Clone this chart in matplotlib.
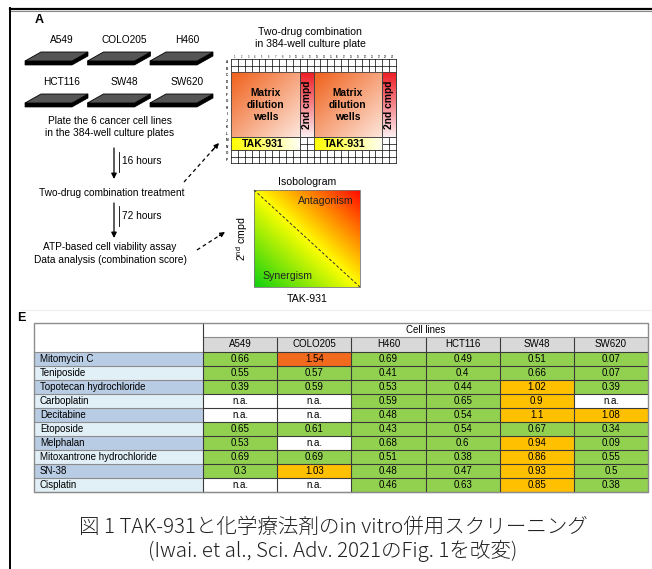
import numpy as np
import matplotlib.pyplot as plt
from matplotlib.patches import Polygon, Rectangle
from matplotlib.colors import to_rgb

plt.rcParams['font.family'] = ['Liberation Sans', 'DejaVu Sans']

# ---- data ----
plate_lines = ['A549', 'COLO205', 'H460', 'HCT116', 'SW48', 'SW620']
cell_lines = ['A549', 'COLO205', 'H460', 'HCT116', 'SW48', 'SW620']
drugs = ['Mitomycin C', 'Teniposide', 'Topotecan hydrochloride', 'Carboplatin',
         'Decitabine', 'Etoposide', 'Melphalan', 'Mitoxantrone hydrochloride',
         'SN-38', 'Cisplatin']
# combination scores, None = n.a.
scores = [
    [0.66, 1.54, 0.69, 0.49, 0.51, 0.07],
    [0.55, 0.57, 0.41, 0.4, 0.66, 0.07],
    [0.39, 0.59, 0.53, 0.44, 1.02, 0.39],
    [None, None, 0.59, 0.65, 0.9, None],
    [None, None, 0.48, 0.54, 1.1, 1.08],
    [0.65, 0.61, 0.43, 0.54, 0.67, 0.34],
    [0.53, None, 0.68, 0.6, 0.94, 0.09],
    [0.69, 0.69, 0.51, 0.38, 0.86, 0.55],
    [0.3, 1.03, 0.48, 0.47, 0.93, 0.5],
    [None, None, 0.46, 0.63, 0.85, 0.38],
]
caption = ['図 1 TAK-931と化学療法剤のin vitro併用スクリーニング',
           '(Iwai. et al., Sci. Adv. 2021のFig. 1を改変)']

W, H = 652, 569
fig = plt.figure(figsize=(W / 100, H / 100), dpi=100)
ax = fig.add_axes([0, 0, 1, 1])
ax.axis('off')


def gradient(x0, y0, x1, y1, c0, c1, direction):
    n = 64
    u = np.linspace(0, 1, n)
    if direction == 'h':
        t = np.tile(u, (n, 1))
    elif direction == 'v':
        t = np.tile(u[:, None], (1, n))
    else:
        t = (u[None, :] + u[:, None]) / 2
    a, b = np.array(to_rgb(c0)), np.array(to_rgb(c1))
    img = a + (b - a) * t[..., None]
    ax.imshow(img, extent=(x0, x1, y1, y0), origin='upper', aspect='auto',
              interpolation='bilinear', zorder=2.5)


# frame lines
ax.plot([10, 652], [8.5, 8.5], color='black', lw=1.6, zorder=5)
ax.plot([10, 652], [10.5, 10.5], color='#888888', lw=0.8, zorder=5)
ax.plot([10, 10], [8, 569], color='black', lw=1.4, zorder=5)
ax.plot([20, 652], [310, 310], color='#eeeeee', lw=0.8)

ax.text(35, 20, 'A', fontsize=9, fontweight='bold', ha='left', va='center')
ax.text(17, 318, 'E', fontsize=9, fontweight='bold', ha='left', va='center')

# ---- culture plates ----
for i, name in enumerate(plate_lines):
    col, row = i % 3, i // 3
    ly = 40 + row * 42
    lx = 25 + col * 62.5
    ax.text(lx + 37, ly, name, fontsize=7.3, ha='center', va='center')
    top = ly + 12
    band = Polygon([(lx, top + 9), (lx + 47, top + 9), (lx + 63, top),
                    (lx + 63, top + 4), (lx + 47, top + 13), (lx, top + 13)],
                   closed=True, facecolor='black', edgecolor='black', lw=0.5, zorder=3)
    face = Polygon([(lx, top + 9), (lx + 47, top + 9), (lx + 63, top), (lx + 16, top)],
                   closed=True, facecolor='#555555', edgecolor='black', lw=0.6, zorder=3)
    ax.add_patch(band)
    ax.add_patch(face)

ax.text(110, 121, 'Plate the 6 cancer cell lines', fontsize=7.3, ha='center', va='center')
ax.text(110, 133, 'in the 384-well culture plates', fontsize=7.3, ha='center', va='center')
ax.text(112, 193, 'Two-drug combination treatment', fontsize=7.3, ha='center', va='center')
ax.text(110, 247, 'ATP-based cell viability assay', fontsize=7.3, ha='center', va='center')
ax.text(110, 260, 'Data analysis (combination score)', fontsize=7.3, ha='center', va='center')
ax.text(122, 161, '16 hours', fontsize=7.3, ha='left', va='center')
ax.text(122, 216, '72 hours', fontsize=7.3, ha='left', va='center')
ax.plot([119, 119], [152, 172], color='black', lw=0.6)
ax.plot([119, 119], [206, 226], color='black', lw=0.6)
for y0, y1 in [(148, 179), (203, 238)]:
    ax.annotate('', xy=(114, y1), xytext=(114, y0),
                arrowprops=dict(arrowstyle='-|>', color='black', lw=0.9,
                                mutation_scale=8, shrinkA=0, shrinkB=0))

# dashed arrows to the plate and isobologram
for (x0, y0), (x1, y1) in [((184, 182), (219, 143)), ((197, 250), (225, 232))]:
    ax.plot([x0, x1 - (x1 - x0) * 0.15], [y0, y1 - (y1 - y0) * 0.15],
            color='black', lw=0.9, ls=(0, (3, 2.5)))
    ax.annotate('', xy=(x1, y1), xytext=(x1 - (x1 - x0) * 0.2, y1 - (y1 - y0) * 0.2),
                arrowprops=dict(arrowstyle='-|>', color='black', lw=0.9,
                                mutation_scale=7, shrinkA=0, shrinkB=0))

# ---- 384-well plate layout ----
px0, py0, cw, rh = 231, 59, 165 / 24, 104 / 16
ax.text(310, 32, 'Two-drug combination', fontsize=7.6, ha='center', va='center')
ax.text(310, 44, 'in 384-well culture plate', fontsize=7.6, ha='center', va='center')
for c in range(25):
    ax.plot([px0 + c * cw] * 2, [py0, py0 + 16 * rh], color='black', lw=0.5, zorder=2)
for r in range(17):
    ax.plot([px0, px0 + 24 * cw], [py0 + r * rh] * 2, color='black', lw=0.5, zorder=2)
for c in range(24):
    ax.text(px0 + (c + 0.5) * cw, py0 - 2.5, str(c + 1), fontsize=1.8,
            ha='center', va='center')
for r in range(16):
    ax.text(px0 - 4, py0 + (r + 0.5) * rh, chr(65 + r), fontsize=2.2,
            fontweight='bold', ha='center', va='center')

for c0 in (0, 12):
    x0, x1 = px0 + c0 * cw, px0 + (c0 + 10) * cw
    y0, y1 = py0 + 2 * rh, py0 + 12 * rh
    gradient(x0, y0, x1, y1, '#f0601a', '#fde6dc', 'd')
    ax.add_patch(Rectangle((x0, y0), x1 - x0, y1 - y0, fill=False, ec='#444444', lw=0.6, zorder=3))
    ax.text((x0 + x1) / 2, (y0 + y1) / 2, 'Matrix\ndilution\nwells', fontsize=7.4,
            fontweight='bold', ha='center', va='center', linespacing=1.25, zorder=4)
    # second compound column
    sx0, sx1 = x1, x1 + 2 * cw
    gradient(sx0, y0, sx1, y1, '#ee1c24', '#fdeef0', 'v')
    ax.add_patch(Rectangle((sx0, y0), sx1 - sx0, y1 - y0, fill=False, ec='#444444', lw=0.6, zorder=3))
    ax.text((sx0 + sx1) / 2, (y0 + y1) / 2, '2nd cmpd', fontsize=7.4, fontweight='bold',
            rotation=90, ha='center', va='center', zorder=4)
    # TAK-931 row
    ty0, ty1 = y1, y1 + 2 * rh
    gradient(x0, ty0, x1, ty1, '#ffff00', '#fffff4', 'h')
    ax.add_patch(Rectangle((x0, ty0), x1 - x0, ty1 - ty0, fill=False, ec='#444444', lw=0.6, zorder=3))
    ax.text((x0 + x1) / 2 - 3, (ty0 + ty1) / 2, 'TAK-931', fontsize=7.6,
            fontweight='bold', ha='center', va='center', zorder=4)

# ---- isobologram ----
ix0, iy0, ix1, iy1 = 254, 190, 360, 287
n = 128
u = np.linspace(0, 1, n)
t = (u[None, :] + u[::-1, None]) / 2
green, yellow, red = np.array(to_rgb('#10d010')), np.array(to_rgb('#ffff00')), np.array(to_rgb('#ff0a00'))
img = np.where(t[..., None] < 0.5,
               green + (yellow - green) * (t[..., None] * 2),
               yellow + (red - yellow) * ((t[..., None] - 0.5) * 2))
ax.imshow(img, extent=(ix0, ix1, iy1, iy0), origin='upper', aspect='auto', zorder=1)
ax.add_patch(Rectangle((ix0, iy0), ix1 - ix0, iy1 - iy0, fill=False, ec='#777777', lw=0.6, zorder=3))
ax.plot([ix0, ix1], [iy0, iy1], color='#333333', lw=0.7, ls=(0, (3, 2)), zorder=3)
ax.text(307, 182, 'Isobologram', fontsize=7.6, ha='center', va='center')
ax.text(326, 201, 'Antagonism', fontsize=7.6, color='#222222', ha='center', va='center', zorder=4)
ax.text(287, 276, 'Synergism', fontsize=7.6, color='#222222', ha='center', va='center', zorder=4)
ax.text(307, 299, 'TAK-931', fontsize=7.6, ha='center', va='center')
ax.text(242, 239, r'2$^{\mathregular{nd}}$ cmpd', fontsize=7.6, rotation=90,
        ha='center', va='center')

# ---- combination score table ----
tx0, tx1 = 34, 648
lab_w = 169
dcw = (tx1 - tx0 - lab_w) / len(cell_lines)
hy0, hy1, hy2 = 323, 337, 351.7
drh = 14.03
ty_end = hy2 + drh * len(drugs)
dx0 = tx0 + lab_w
blues = ['#b8cce4', '#e1eff6']


def score_color(v):
    if v is None:
        return 'white'
    if v < 0.8:
        return '#92d050'
    if v < 1.2:
        return '#ffc000'
    return '#f26a1d'


for j, name in enumerate(cell_lines):
    ax.add_patch(Rectangle((dx0 + j * dcw, hy1), dcw, hy2 - hy1, fc='#d9d9d9', ec='none'))
    ax.text(dx0 + (j + 0.5) * dcw, (hy1 + hy2) / 2, name, fontsize=7, ha='center', va='center')
ax.text(dx0 + 3 * dcw, (hy0 + hy1) / 2, 'Cell lines', fontsize=7, ha='center', va='center')

for i, drug in enumerate(drugs):
    y = hy2 + i * drh
    ax.add_patch(Rectangle((tx0, y), lab_w, drh, fc=blues[i % 2], ec='none'))
    ax.text(tx0 + 6, y + drh / 2, drug, fontsize=7, ha='left', va='center')
    for j, v in enumerate(scores[i]):
        ax.add_patch(Rectangle((dx0 + j * dcw, y), dcw, drh, fc=score_color(v), ec='none'))
        ax.text(dx0 + (j + 0.5) * dcw, y + drh / 2, 'n.a.' if v is None else f'{v:g}',
                fontsize=7, ha='center', va='center')

# grid lines
for i in range(len(drugs) + 1):
    y = hy2 + i * drh
    ax.plot([tx0, dx0], [y, y], color='#8c8c8c', lw=0.8, zorder=3)
    ax.plot([dx0, tx1], [y, y], color='#3a3a3a', lw=0.8, zorder=3)
for j in range(1, len(cell_lines)):
    ax.plot([dx0 + j * dcw] * 2, [hy1, ty_end], color='#3a3a3a', lw=0.8, zorder=3)
ax.plot([dx0, tx1], [hy1, hy1], color='#8c8c8c', lw=0.8, zorder=3)
ax.plot([dx0, dx0], [hy0, ty_end], color='#3a3a3a', lw=0.8, zorder=3)
ax.add_patch(Rectangle((tx0, hy0), tx1 - tx0, ty_end - hy0, fill=False, ec='#8c8c8c', lw=1, zorder=4))

# ---- caption ----
for k, line in enumerate(caption):
    ax.text(333, 527 + k * 24, line, fontsize=14.8, color='#222222', ha='center', va='center',
            family=['Noto Sans CJK JP', 'DejaVu Sans'], fontweight='light')

ax.set_xlim(0, W)
ax.set_ylim(H, 0)
fig.savefig('out.png', dpi=100)
